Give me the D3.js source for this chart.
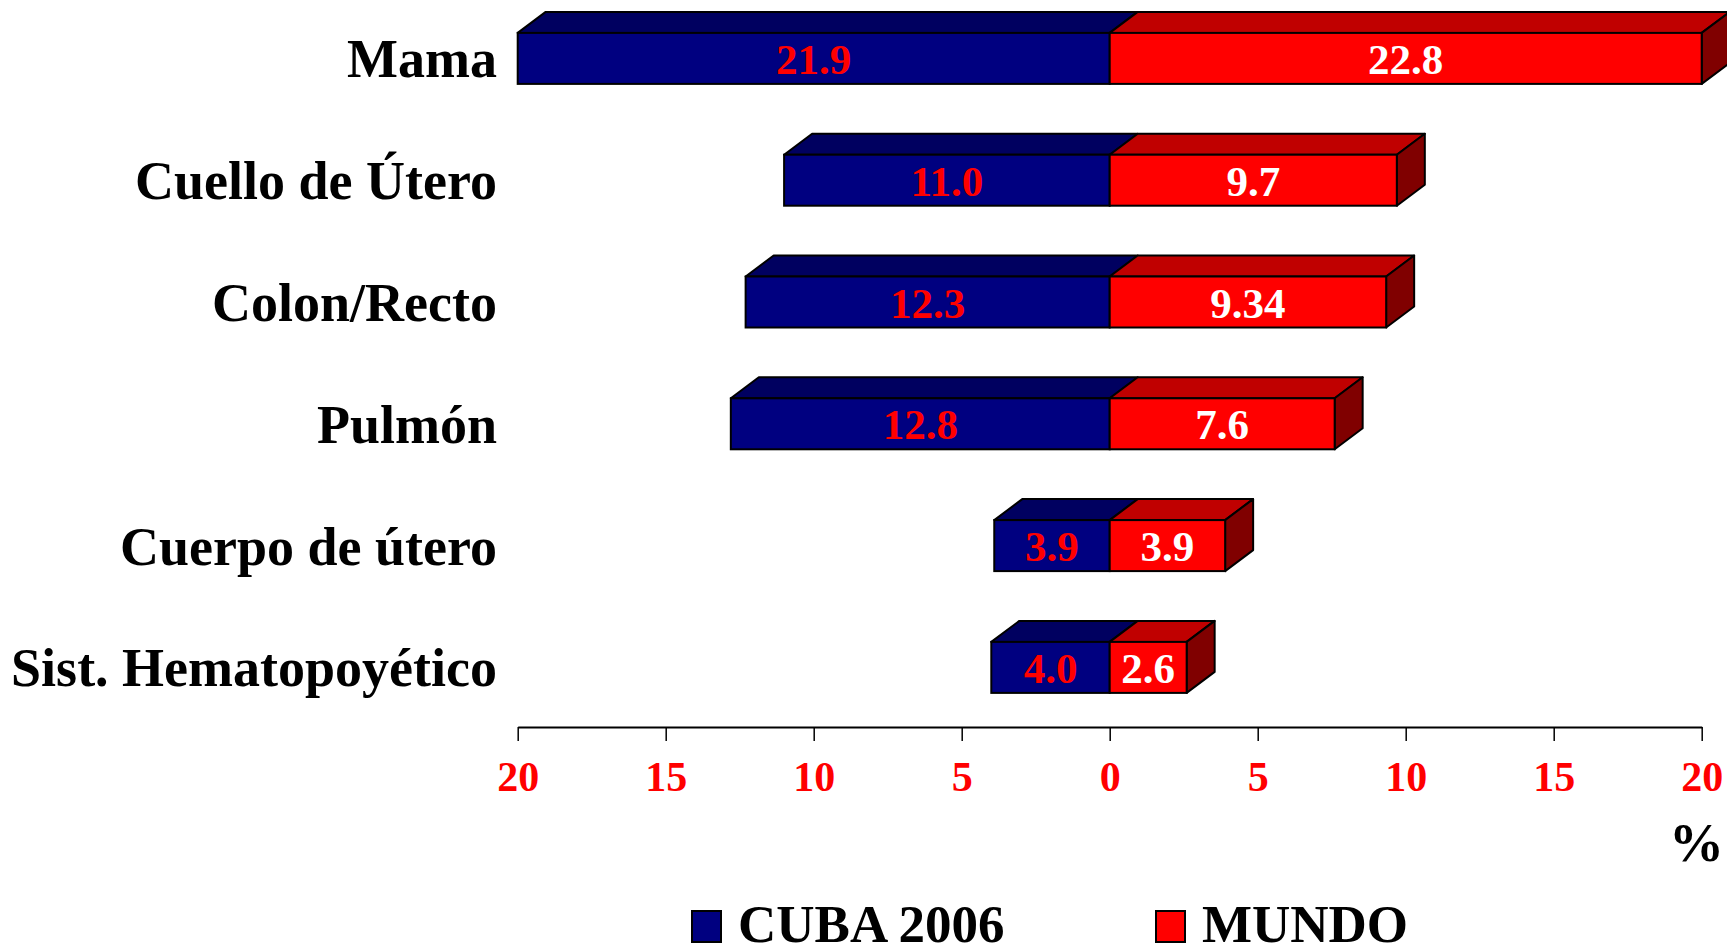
<!DOCTYPE html>
<html>
<head>
<meta charset="utf-8">
<script src="https://cdn.jsdelivr.net/npm/d3@7"></script>
<style>
  body { margin: 0; background: #fff; }
  text { font-family: "Liberation Serif", "Times New Roman", serif; font-weight: bold; }
</style>
</head>
<body>
<div id="chart"></div>
<script>
var categories = ["Mama", "Cuello de Útero", "Colon/Recto", "Pulmón", "Cuerpo de útero", "Sist. Hematopoyético"];
var cuba = [21.9, 11.0, 12.3, 12.8, 3.9, 4.0];
var mundo = [22.8, 9.7, 9.34, 7.6, 3.9, 2.6];
var tickValues = [-20, -15, -10, -5, 0, 5, 10, 15, 20];
var seriesNames = ["CUBA 2006", "MUNDO"];

var W = 1727, H = 950;
var svg = d3.select("#chart").append("svg").attr("width", W).attr("height", H);
svg.append("rect").attr("width", W).attr("height", H).attr("fill", "#fff");

var axisY = 727,
    frontH = 51,
    dx = 28,
    dy = 21;

var x = d3.scaleLinear().domain([-20, 20]).range([517.7, 1701.7]).clamp(true);
var y = d3.scalePoint().domain(categories).range([-2.5, 728.3]).padding(0.5);

var colors = {
  cuba: { front: "#000080", top: "#000060", side: "#000040", label: "#ff0000" },
  mundo: { front: "#ff0000", top: "#c00000", side: "#800000", label: "#ffffff" }
};

var rows = categories.map(function(c, i) {
  return { name: c, cuba: cuba[i], mundo: mundo[i] };
});

// axis
var axis = svg.append("g")
  .attr("transform", "translate(0," + axisY + ")")
  .call(d3.axisBottom(x).tickValues(tickValues).tickSize(14).tickSizeOuter(0).tickPadding(20)
    .tickFormat(function(d) { return Math.abs(d); }));
axis.select(".domain").attr("stroke", "#000").attr("stroke-width", 2);
axis.selectAll(".tick line").attr("stroke", "#000").attr("stroke-width", 1.5);
axis.selectAll(".tick text")
  .attr("fill", "#ff0000")
  .attr("font-size", "42px")
  .attr("font-family", "Liberation Serif, Times New Roman, serif")
  .attr("font-weight", "bold");

svg.append("text")
  .attr("x", 1724).attr("y", 861)
  .attr("text-anchor", "end")
  .attr("font-size", "55px")
  .text("%");

function segment(g, xl, xr, yc, col, withSide) {
  var yt = yc - frontH / 2, yb = yc + frontH / 2;
  g.append("polygon")
    .attr("points", [[xl, yt], [xl + dx, yt - dy], [xr + dx, yt - dy], [xr, yt]].join(" "))
    .attr("fill", col.top).attr("stroke", "#000").attr("stroke-width", 2).attr("stroke-linejoin", "round");
  if (withSide) {
    g.append("polygon")
      .attr("points", [[xr, yt], [xr + dx, yt - dy], [xr + dx, yb - dy], [xr, yb]].join(" "))
      .attr("fill", col.side).attr("stroke", "#000").attr("stroke-width", 2).attr("stroke-linejoin", "round");
  }
  g.append("rect")
    .attr("x", xl).attr("y", yt)
    .attr("width", xr - xl).attr("height", frontH)
    .attr("fill", col.front).attr("stroke", "#000").attr("stroke-width", 2);
}

var bars = svg.selectAll(".row")
  .data(rows)
  .enter().append("g")
  .attr("class", "row");

bars.each(function(d) {
  var g = d3.select(this);
  var yc = y(d.name);
  segment(g, x(-d.cuba), x(0), yc, colors.cuba, false);
  segment(g, x(0), x(d.mundo), yc, colors.mundo, true);

  g.append("text")
    .attr("x", (x(-d.cuba) + x(0)) / 2)
    .attr("y", yc + 15.6)
    .attr("text-anchor", "middle")
    .attr("font-size", "43px")
    .attr("fill", colors.cuba.label)
    .text(d.cuba.toFixed(1));

  g.append("text")
    .attr("x", (x(0) + x(d.mundo)) / 2)
    .attr("y", yc + 15.6)
    .attr("text-anchor", "middle")
    .attr("font-size", "43px")
    .attr("fill", colors.mundo.label)
    .text(String(d.mundo));

  g.append("text")
    .attr("x", 497)
    .attr("y", yc + 19)
    .attr("text-anchor", "end")
    .attr("font-size", "54px")
    .attr("fill", "#000")
    .text(d.name);
});

// legend
var legendX = [692, 1156];
var legend = svg.selectAll(".legend")
  .data(seriesNames)
  .enter().append("g")
  .attr("class", "legend")
  .attr("transform", function(d, i) { return "translate(" + legendX[i] + ",911)"; });

legend.append("rect")
  .attr("width", 29).attr("height", 31)
  .attr("fill", function(d, i) { return i === 0 ? colors.cuba.front : colors.mundo.front; })
  .attr("stroke", "#000").attr("stroke-width", 2);

legend.append("text")
  .attr("x", 46).attr("y", 31)
  .attr("font-size", "53px")
  .attr("fill", "#000")
  .text(function(d) { return d; });
</script>
</body>
</html>
